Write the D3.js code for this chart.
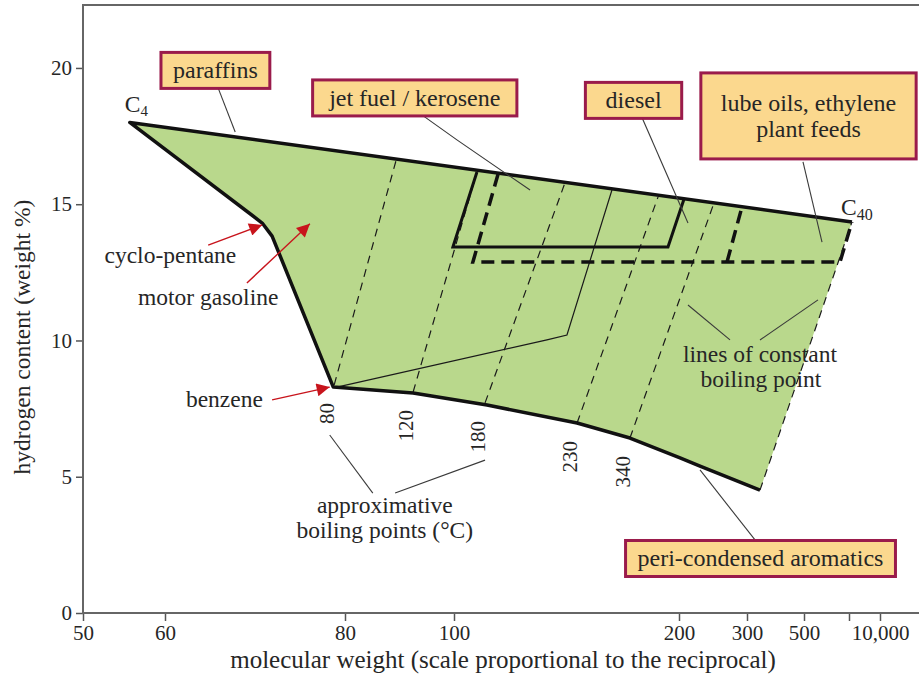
<!DOCTYPE html>
<html>
<head>
<meta charset="utf-8">
<script src="https://cdn.jsdelivr.net/npm/d3@7"></script>
<style>
  body { margin: 0; background: #fff; }
  text { font-family: "Liberation Serif", "DejaVu Serif", serif; fill: #262626; }
</style>
</head>
<body>
<svg id="chart" width="919" height="687"></svg>
<script>
'use strict';

// axis ticks
const xTicks = [50, 60, 80, 100, 200, 300, 500, 1000, 10000];
const xTickLabels = ['50', '60', '80', '100', '200', '300', '500', '', '10,000'];
const yTicks = [0, 5, 10, 15, 20];

// hydrocarbon region, [molecular weight, hydrogen wt %]
// C4 -> cyclo-pentane -> benzene -> aromatics -> C40
const regionOutline = [[55.7, 18.0], [70.8, 14.31], [71.9, 13.83], [78.7, 8.29], [92.5, 8.07],
  [114.7, 7.63], [154.7, 6.97], [178.2, 6.42], [201.5, 5.69], [230.9, 5.39], [345.6, 4.51], [1871, 14.35]];

// lines of constant boiling point (deg C)
const boilingPoints = ['80', '120', '180', '230', '340'];
const boilingBottom = [[78.8, 8.37], [92.5, 8.11], [113.8, 7.71], [154.7, 6.97], [178.2, 6.42]];
const boilingTop = [[89.5, 16.70], [110.2, 16.18], [149.3, 15.78], [190.7, 15.27], [251.5, 15.05]];

// motor gasoline boundary (thin solid)
const gasolineLine = [[170.2, 15.52], [150.2, 10.20], [141.3, 10.02], [79.1, 8.29]];
// jet fuel box (thick solid) and diesel / lube box (thick dashed)
const jetFuelBox = [[110.2, 16.18], [99.8, 13.43], [195.1, 13.43], [207.4, 15.19]];
const dieselBox = [[119.6, 16.11], [108.4, 12.88], [900, 12.88], [1871, 14.35]];
const lubeDivider = [[270.6, 12.88], [292.6, 14.90]];

// boxed labels and their leader lines
const calloutNames = [['paraffins'], ['jet fuel / kerosene'], ['diesel'],
  ['lube oils, ethylene', 'plant feeds'], ['peri-condensed aromatics']];
const calloutAt = [[65.6, 19.91], [92.8, 18.90], [179.8, 18.81], [550, 18.24], [347.4, 2.0]];
const calloutLeaders = [
  [[65.9, 19.27], [67.8, 17.65]],
  [[94.1, 18.28], [101.3, 17.36], [133.8, 15.52]],
  [[183.6, 18.17], [213.2, 14.31]],
  [[496.5, 16.55], [700, 13.61]],
  [[230.9, 5.25], [328.1, 2.68]]
];

// plain notes
const notes = ['cyclo-pentane', 'motor gasoline', 'benzene', 'approximative',
  'boiling points (°C)', 'lines of constant', 'boiling point'];
const noteAt = [[60.6, 12.84], [64.8, 11.30], [66.6, 7.56], [87.3, 3.67], [87.3, 2.75], [345.6, 9.21], [349, 8.29]];
const noteLeaders = [
  [[78.3, 6.53], [85.1, 4.40]],
  [[89.2, 4.40], [113.8, 5.61]],
  [[213.2, 11.30], [275, 10.02]],
  [[345.6, 10.02], [655.6, 11.49]]
];

// red arrows
const arrowFrom = [[64.8, 13.50], [69.1, 12.11], [71.9, 7.82]];
const arrowTo = [[70.8, 14.24], [76.1, 14.28], [78.3, 8.29]];


var margin = {top: 5, left: 83, bottom: 74};
var W = 919, H = 687;
var green = '#b9d88c', boxFill = '#fbd88e', boxStroke = '#9a1b4b', red = '#c8141c';
var tickFont = 21, noteFont = 23.5, boxFont = 24;
// padding of the boxed labels [horizontal, vertical]
var calloutPad = [[12, 4], [16, 4], [20, 4], [20, 16], [12, 4]];

var svg = d3.select('#chart');

// axis is only roughly reciprocal, so the ticks are pinned
var x = d3.scaleLinear()
  .domain(xTicks)
  .range([0, 82, 262, 371, 596, 664, 721, 766, 797].map(function (d) { return d + margin.left; }));
var y = d3.scaleLinear().domain([0, 22.31]).range([H - margin.bottom, margin.top]);

var line = d3.line().x(function (d) { return x(d[0]); }).y(function (d) { return y(d[1]); });

svg.append('defs').append('marker')
  .attr('id', 'arrow')
  .attr('viewBox', '0 0 10 10')
  .attr('refX', 10).attr('refY', 5)
  .attr('markerUnits', 'userSpaceOnUse')
  .attr('markerWidth', 17).attr('markerHeight', 13)
  .attr('orient', 'auto')
  .append('path')
  .attr('d', 'M0,0L10,5L0,10z')
  .attr('fill', red);

// green region
svg.append('path')
  .attr('d', line(regionOutline) + 'Z')
  .attr('fill', green);

// constant boiling point lines
svg.append('g').selectAll('path')
  .data(boilingPoints)
  .enter().append('path')
  .attr('d', function (d, i) { return line([boilingBottom[i], boilingTop[i]]); })
  .attr('fill', 'none')
  .attr('stroke', '#1a1a1a')
  .attr('stroke-width', 1.2)
  .attr('stroke-dasharray', '8,6');

svg.append('g').selectAll('text')
  .data(boilingPoints)
  .enter().append('text')
  .attr('transform', function (d, i) {
    return 'translate(' + x(boilingBottom[i][0]) + ',' + (y(boilingBottom[i][1]) + 18) + ') rotate(-90)';
  })
  .attr('text-anchor', 'end')
  .attr('font-size', tickFont)
  .text(function (d) { return d; });

svg.append('path')
  .attr('d', line(gasolineLine))
  .attr('fill', 'none')
  .attr('stroke', '#1a1a1a')
  .attr('stroke-width', 1.2);

svg.append('path')
  .attr('d', line(jetFuelBox))
  .attr('fill', 'none')
  .attr('stroke', '#111')
  .attr('stroke-width', 3);

svg.append('path')
  .attr('d', line(dieselBox))
  .attr('fill', 'none')
  .attr('stroke', '#111')
  .attr('stroke-width', 3.5)
  .attr('stroke-dasharray', '13,7');

svg.append('path')
  .attr('d', line(lubeDivider))
  .attr('fill', 'none')
  .attr('stroke', '#111')
  .attr('stroke-width', 3.5)
  .attr('stroke-dasharray', '13,7');

// thick outline: top, left and bottom edges (right edge is a dashed boiling line)
var last = regionOutline.length - 1;
svg.append('path')
  .attr('d', line([regionOutline[last]].concat(regionOutline.slice(0, last))))
  .attr('fill', 'none')
  .attr('stroke', '#111')
  .attr('stroke-width', 3.5)
  .attr('stroke-linejoin', 'round');

svg.append('path')
  .attr('d', line([regionOutline[last - 1], regionOutline[last]]))
  .attr('fill', 'none')
  .attr('stroke', '#1a1a1a')
  .attr('stroke-width', 1.2)
  .attr('stroke-dasharray', '8,6');

// C4 / C40
var c4 = svg.append('text')
  .attr('x', x(regionOutline[0][0]) - 5)
  .attr('y', y(regionOutline[0][1]) - 10)
  .attr('font-size', noteFont);
c4.append('tspan').text('C');
c4.append('tspan').attr('font-size', 15).attr('dy', 4).text('4');

var c40 = svg.append('text')
  .attr('x', x(regionOutline[last][0]) - 11)
  .attr('y', y(regionOutline[last][1]) - 7)
  .attr('font-size', noteFont);
c40.append('tspan').text('C');
c40.append('tspan').attr('font-size', 16).attr('dy', 5).text('40');

// leader lines
svg.append('g').selectAll('path')
  .data(calloutLeaders.concat(noteLeaders))
  .enter().append('path')
  .attr('d', line)
  .attr('fill', 'none')
  .attr('stroke', '#3a3a3a')
  .attr('stroke-width', 1.1);

// red arrows
svg.append('g').selectAll('path')
  .data(arrowFrom)
  .enter().append('path')
  .attr('d', function (d, i) { return line([d, arrowTo[i]]); })
  .attr('stroke', red)
  .attr('stroke-width', 1.4)
  .attr('marker-end', 'url(#arrow)');

// notes
svg.append('g').selectAll('text')
  .data(notes)
  .enter().append('text')
  .attr('x', function (d, i) { return x(noteAt[i][0]); })
  .attr('y', function (d, i) { return y(noteAt[i][1]); })
  .attr('text-anchor', 'middle')
  .attr('font-size', noteFont)
  .text(function (d) { return d; });

// boxed labels
var lineH = 26;
var callouts = svg.append('g').selectAll('g')
  .data(calloutNames)
  .enter().append('g')
  .attr('transform', function (d, i) {
    return 'translate(' + x(calloutAt[i][0]) + ',' + y(calloutAt[i][1]) + ')';
  });

callouts.each(function (d, i) {
  var g = d3.select(this);
  var t = g.append('text')
    .attr('text-anchor', 'middle')
    .attr('font-size', boxFont);
  d.forEach(function (s, k) {
    t.append('tspan')
      .attr('x', 0)
      .attr('y', (k - (d.length - 1) / 2) * lineH)
      .attr('dy', '0.33em')
      .text(s);
  });
  var bb = t.node().getBBox();
  var w = bb.width + 2 * calloutPad[i][0];
  var h = d.length * lineH + 2 * calloutPad[i][1] + 2;
  g.insert('rect', 'text')
    .attr('x', -w / 2).attr('y', -h / 2)
    .attr('width', w).attr('height', h)
    .attr('fill', boxFill)
    .attr('stroke', boxStroke)
    .attr('stroke-width', 3);
});

// axes
var xAxis = svg.append('g')
  .attr('transform', 'translate(0,' + y(0) + ')')
  .call(d3.axisBottom(x)
    .tickValues(xTicks)
    .tickFormat(function (d, i) { return xTickLabels[i]; })
    .tickSize(8)
    .tickPadding(4));

var yAxis = svg.append('g')
  .attr('transform', 'translate(' + margin.left + ',0)')
  .call(d3.axisLeft(y)
    .tickValues(yTicks)
    .tickSize(7)
    .tickPadding(4));

[xAxis, yAxis].forEach(function (a) {
  a.select('.domain').remove();
  a.selectAll('.tick line').attr('stroke', '#555').attr('stroke-width', 1.5);
  a.selectAll('.tick text')
    .attr('font-size', tickFont)
    .attr('font-family', '"Liberation Serif", serif')
    .attr('fill', '#2b2b2b');
});

// frame
svg.append('path')
  .attr('d', 'M' + W + ',' + y(0) + 'H' + margin.left + 'V' + margin.top + 'H' + W)
  .attr('fill', 'none')
  .attr('stroke', '#666')
  .attr('stroke-width', 2);

svg.append('text')
  .attr('x', 503)
  .attr('y', H - 19)
  .attr('text-anchor', 'middle')
  .attr('font-size', 25)
  .text('molecular weight (scale proportional to the reciprocal)');

svg.append('text')
  .attr('transform', 'translate(30,' + ((y(0) + margin.top) / 2 + 28) + ') rotate(-90)')
  .attr('text-anchor', 'middle')
  .attr('font-size', noteFont)
  .text('hydrogen content (weight %)');
</script>
</body>
</html>
